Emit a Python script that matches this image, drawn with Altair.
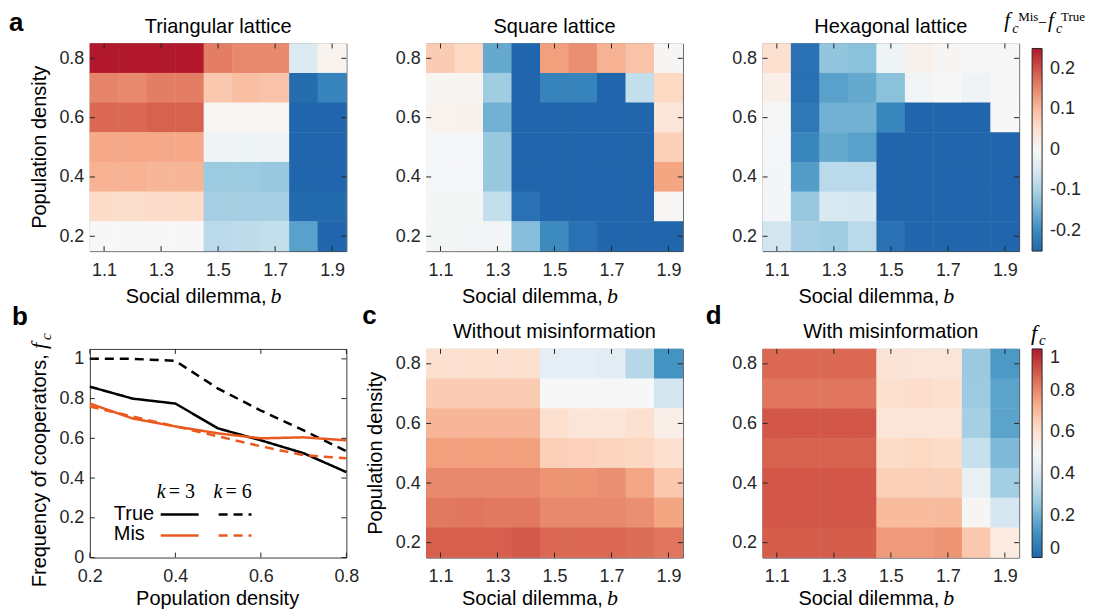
import altair as alt
import pandas as pd

FONT = "Liberation Sans"
SERIF = "Liberation Serif"
AX = "#262626"
FRAME = "#3a3a3a"
ORANGE = "#ea5a1f"
RDBU = ["#2166ac", "#4393c3", "#92c5de", "#d1e5f0", "#f7f7f7",
        "#fddbc7", "#f4a582", "#d6604d", "#b2182b"]

# ---------------- data ----------------
B_VALUES = [1.1, 1.2, 1.3, 1.4, 1.5, 1.6, 1.7, 1.8, 1.9]
DENSITY_ROWS = [0.8, 0.7, 0.6, 0.5, 0.4, 0.3, 0.2]
B_TICKS = [1.1, 1.3, 1.5, 1.7, 1.9]
D_TICKS = [0.2, 0.4, 0.6, 0.8]
DIFF_TICKS = [-0.2, -0.1, 0, 0.1, 0.2]
FC_TICKS = [0, 0.2, 0.4, 0.6, 0.8, 1]

TRIANGULAR = [
    [0.25, 0.25, 0.25, 0.25, 0.16, 0.15, 0.15, -0.045, 0.01],
    [0.155, 0.15, 0.16, 0.16, 0.085, 0.095, 0.09, -0.24, -0.21],
    [0.18, 0.18, 0.185, 0.185, 0.002, 0.002, 0.002, -0.25, -0.25],
    [0.12, 0.12, 0.12, 0.12, -0.01, -0.015, -0.012, -0.25, -0.25],
    [0.11, 0.11, 0.105, 0.105, -0.115, -0.115, -0.12, -0.25, -0.25],
    [0.06, 0.055, 0.06, 0.06, -0.105, -0.105, -0.105, -0.245, -0.245],
    [0.0, 0.0, 0.0, 0.0, -0.085, -0.08, -0.075, -0.17, -0.25],
]
SQUARE = [
    [0.08, 0.065, -0.16, -0.25, 0.13, 0.145, 0.11, 0.09, 0.005],
    [0.007, 0.007, -0.11, -0.25, -0.21, -0.21, -0.25, -0.075, 0.065],
    [0.01, 0.012, -0.15, -0.25, -0.25, -0.25, -0.25, -0.25, 0.04],
    [-0.003, -0.003, -0.12, -0.25, -0.25, -0.25, -0.25, -0.25, 0.075],
    [-0.003, -0.003, -0.12, -0.25, -0.25, -0.25, -0.25, -0.25, 0.125],
    [-0.005, -0.005, -0.075, -0.235, -0.25, -0.25, -0.25, -0.25, 0.003],
    [-0.005, -0.006, -0.008, -0.135, -0.2, -0.235, -0.25, -0.25, -0.25],
]
HEXAGONAL = [
    [0.05, -0.235, -0.125, -0.13, -0.015, 0.015, 0.005, -0.002, -0.002],
    [0.02, -0.235, -0.17, -0.16, -0.13, -0.008, 0.0, -0.015, -0.002],
    [-0.002, -0.225, -0.15, -0.15, -0.205, -0.25, -0.25, -0.25, 0.0],
    [-0.004, -0.205, -0.16, -0.17, -0.25, -0.25, -0.25, -0.25, -0.25],
    [-0.006, -0.175, -0.085, -0.085, -0.25, -0.25, -0.25, -0.25, -0.25],
    [-0.006, -0.12, -0.05, -0.055, -0.25, -0.25, -0.25, -0.25, -0.25],
    [-0.06, -0.105, -0.11, -0.085, -0.235, -0.25, -0.25, -0.25, -0.25],
]
WITHOUT_MIS = [
    [0.6, 0.6, 0.6, 0.6, 0.44, 0.44, 0.43, 0.32, 0.125],
    [0.66, 0.66, 0.66, 0.66, 0.5, 0.5, 0.5, 0.5, 0.38],
    [0.71, 0.71, 0.71, 0.71, 0.6, 0.58, 0.58, 0.6, 0.54],
    [0.76, 0.76, 0.76, 0.76, 0.65, 0.645, 0.64, 0.635, 0.6],
    [0.8, 0.8, 0.8, 0.8, 0.78, 0.78, 0.79, 0.745, 0.67],
    [0.83, 0.835, 0.83, 0.83, 0.8, 0.8, 0.8, 0.79, 0.75],
    [0.875, 0.875, 0.875, 0.885, 0.86, 0.86, 0.86, 0.85, 0.835],
]
WITH_MIS = [
    [0.86, 0.86, 0.86, 0.86, 0.585, 0.58, 0.58, 0.265, 0.14],
    [0.835, 0.835, 0.835, 0.835, 0.6, 0.615, 0.6, 0.27, 0.165],
    [0.89, 0.89, 0.89, 0.89, 0.58, 0.58, 0.58, 0.29, 0.165],
    [0.87, 0.87, 0.87, 0.87, 0.62, 0.63, 0.62, 0.355, 0.22],
    [0.89, 0.89, 0.89, 0.89, 0.65, 0.65, 0.65, 0.45, 0.285],
    [0.89, 0.89, 0.89, 0.89, 0.7, 0.7, 0.7, 0.51, 0.39],
    [0.88, 0.88, 0.88, 0.88, 0.77, 0.77, 0.78, 0.67, 0.56],
]

DENSITY = [0.2, 0.3, 0.4, 0.5, 0.6, 0.7, 0.8]
TRUE_K3 = [0.86, 0.80, 0.775, 0.65, 0.59, 0.525, 0.43]
TRUE_K6 = [1.0, 1.0, 0.99, 0.85, 0.74, 0.64, 0.535]
MIS_K3 = [0.775, 0.70, 0.66, 0.625, 0.60, 0.605, 0.59]
MIS_K6 = [0.76, 0.71, 0.66, 0.61, 0.56, 0.515, 0.50]
LINE_TICKS_X = [0.2, 0.4, 0.6, 0.8]
LINE_TICKS_Y = [0, 0.2, 0.4, 0.6, 0.8, 1]

DIFF_STOPS = [-0.25 + 0.0625 * i for i in range(9)]
FC_STOPS = [0.125 * i for i in range(9)]

W = 257
H_TOP = 208
H_BOT = 209


def grid_df(matrix):
    rows = []
    for d, row in zip(DENSITY_ROWS, matrix):
        for b, v in zip(B_VALUES, row):
            rows.append({"b": b, "d": d, "v": v})
    return pd.DataFrame(rows)


def txt(text, x, y, size=20, font=FONT, style="normal", weight="normal",
        align="left", angle=0, color="black"):
    return alt.Chart(alt.Data(values=[{}])).mark_text(
        text=text, fontSize=size, font=font, fontStyle=style, fontWeight=weight,
        align=align, baseline="alphabetic", angle=angle, color=color
    ).encode(x=alt.value(x), y=alt.value(y))


def axis_x(values, fmt):
    return alt.Axis(values=values, format=fmt, title=None, labelFlush=False,
                    labelOverlap=False, labelPadding=10, ticks=False, tickSize=0,
                    domain=False, grid=False, labelFontSize=18, labelFont=FONT,
                    labelColor=AX)


def axis_y(values, fmt):
    return alt.Axis(values=values, format=fmt, title=None, labelFlush=False,
                    labelOverlap=False, labelPadding=6, ticks=False, tickSize=0,
                    domain=False, grid=False, labelFontSize=18, labelFont=FONT,
                    labelColor=AX)


def inner_ticks(xticks, yticks, xscale, yscale, xaxis, yaxis, w, h, L=5):
    xt = alt.Chart(pd.DataFrame({"t": xticks}))
    yt = alt.Chart(pd.DataFrame({"t": yticks}))
    kw = dict(color=AX, strokeWidth=1)
    return [
        xt.mark_rule(**kw).encode(x=alt.X("t:Q", scale=xscale, axis=xaxis),
                                  y=alt.value(h), y2=alt.value(h - L)),
        xt.mark_rule(**kw).encode(x=alt.X("t:Q", scale=xscale, axis=xaxis),
                                  y=alt.value(0), y2=alt.value(L)),
        yt.mark_rule(**kw).encode(y=alt.Y("t:Q", scale=yscale, axis=yaxis),
                                  x=alt.value(0), x2=alt.value(L)),
        yt.mark_rule(**kw).encode(y=alt.Y("t:Q", scale=yscale, axis=yaxis),
                                  x=alt.value(w), x2=alt.value(w - L)),
    ]


def heatmap(matrix, stops, title, h, legend=None, letter=None, letter_xy=None,
            ytitle=False, extra=None, xtitle_dy=52):
    xs = alt.Scale(domain=[1.05, 1.95], nice=False, zero=False)
    ys = alt.Scale(domain=[0.15, 0.85], nice=False, zero=False)
    xa = axis_x(B_TICKS, ".1f")
    ya = axis_y(D_TICKS, ".1f")
    rect = alt.Chart(grid_df(matrix)).transform_calculate(
        b0="datum.b - 0.0508", b1="datum.b + 0.0508",
        d0="datum.d - 0.0508", d1="datum.d + 0.0508"
    ).mark_rect().encode(
        x=alt.X("b0:Q", scale=xs, axis=xa),
        x2="b1:Q",
        y=alt.Y("d0:Q", scale=ys, axis=ya),
        y2="d1:Q",
        color=alt.Color("v:Q", scale=alt.Scale(domain=stops, range=RDBU,
                                                clamp=True, interpolate="rgb"),
                        legend=legend),
    )
    layers = [rect] + inner_ticks(B_TICKS, D_TICKS, xs, ys, xa, ya, W, h)
    layers.append(txt(title, W / 2, -11, align="center"))
    layers.append(txt("Social dilemma,", 177, h + xtitle_dy, align="right"))
    layers.append(txt("b", 181, h + xtitle_dy, size=22, font=SERIF, style="italic"))
    if ytitle:
        layers.append(txt("Population density", -44, h / 2, align="center", angle=270))
    if letter:
        layers.append(txt(letter, letter_xy[0], letter_xy[1], size=26, weight="bold"))
    if extra:
        layers += extra
    return alt.layer(*layers).properties(width=W, height=h)


diff_legend = alt.Legend(
    orient="none", legendX=270, legendY=5, direction="vertical",
    gradientLength=203, gradientThickness=10, title=None, values=DIFF_TICKS,
    labelExpr="datum.value < 0 ? '-' + format(-datum.value, '.1~f') : format(datum.value, '.1~f')",
    labelFontSize=18, labelFont=FONT, labelColor=AX, labelOffset=8,
    gradientStrokeColor=AX, gradientStrokeWidth=1, padding=0)

fc_legend = alt.Legend(
    orient="none", legendX=270, legendY=0, direction="vertical",
    gradientLength=H_BOT, gradientThickness=10, title=None, values=FC_TICKS,
    format="~g", labelFontSize=18, labelFont=FONT, labelColor=AX, labelOffset=8,
    gradientStrokeColor=AX, gradientStrokeWidth=1, padding=0)

diff_title = [
    txt("f", 242, -17, size=21, font=SERIF, style="italic"),
    txt("c", 250, -11, size=14, font=SERIF, style="italic"),
    txt("Mis", 256, -23, size=13, font=SERIF),
    txt("\u2212", 276, -16, size=16, font=SERIF),
    txt("f", 286, -17, size=21, font=SERIF, style="italic"),
    txt("c", 294, -11, size=14, font=SERIF, style="italic"),
    txt("True", 299, -23, size=13, font=SERIF),
]
fc_title = [
    txt("f", 269, -9, size=22, font=SERIF, style="italic"),
    txt("c", 277, -4, size=15, font=SERIF, style="italic"),
]

panel_a = heatmap(TRIANGULAR, DIFF_STOPS, "Triangular lattice", H_TOP,
                  letter="a", letter_xy=(-81, -13), ytitle=True)
panel_sq = heatmap(SQUARE, DIFF_STOPS, "Square lattice", H_TOP)
panel_hex = heatmap(HEXAGONAL, DIFF_STOPS, "Hexagonal lattice", H_TOP,
                    legend=diff_legend, extra=diff_title)
panel_c = heatmap(WITHOUT_MIS, FC_STOPS, "Without misinformation", H_BOT,
                  letter="c", letter_xy=(-64, -25), ytitle=True, xtitle_dy=48)
panel_d = heatmap(WITH_MIS, FC_STOPS, "With misinformation", H_BOT,
                  legend=fc_legend, letter="d", letter_xy=(-57, -25), extra=fc_title,
                  xtitle_dy=48)

# ---------------- panel b ----------------
rows = []
for name, k, vals in [("True", "k=3", TRUE_K3), ("True", "k=6", TRUE_K6),
                      ("Mis", "k=3", MIS_K3), ("Mis", "k=6", MIS_K6)]:
    for x, v in zip(DENSITY, vals):
        rows.append({"density": x, "fc": v, "info": name, "k": k})
line_df = pd.DataFrame(rows)

lx = alt.Scale(domain=[0.2, 0.8], nice=False, zero=False)
ly = alt.Scale(domain=[0, 1.05], nice=False)
lxa = axis_x(LINE_TICKS_X, "~g")
lya = axis_y(LINE_TICKS_Y, "~g")
lines = alt.Chart(line_df).mark_line(strokeWidth=2.5).encode(
    x=alt.X("density:Q", scale=lx, axis=lxa),
    y=alt.Y("fc:Q", scale=ly, axis=lya),
    color=alt.Color("info:N", scale=alt.Scale(domain=["True", "Mis"],
                                              range=["black", ORANGE]), legend=None),
    strokeDash=alt.StrokeDash("k:N", scale=alt.Scale(domain=["k=3", "k=6"],
                                                     range=[[1, 0], [9, 6]]), legend=None),
    detail="k:N",
)


def seg(x1, x2, y, color, dash):
    return alt.Chart(alt.Data(values=[{}])).mark_rule(
        color=color, strokeWidth=2.5, strokeDash=dash
    ).encode(x=alt.value(x1), x2=alt.value(x2), y=alt.value(y))


Hb = H_BOT
b_layers = [lines] + inner_ticks(LINE_TICKS_X, LINE_TICKS_Y, lx, ly, lxa, lya, W, Hb) + [
    txt("k", 67, 149, size=20, font=SERIF, style="italic"),
    txt("= 3", 79, 149, size=20, font=SERIF),
    txt("k", 124, 149, size=20, font=SERIF, style="italic"),
    txt("= 6", 136, 149, size=20, font=SERIF),
    txt("True", 24, 171),
    txt("Mis", 24, 191),
    seg(71, 109, 166, "black", [1, 0]),
    seg(129, 162, 166, "black", [9, 6]),
    seg(71, 109, 187, ORANGE, [1, 0]),
    seg(129, 162, 187, ORANGE, [9, 6]),
    txt("Population density", 128, Hb + 48, align="center"),
    txt("Frequency of cooperators,", -44, 122, align="center", angle=270),
    txt("f", -44, 0, size=22, font=SERIF, style="italic", angle=270),
    txt("c", -39, -9, size=15, font=SERIF, style="italic", angle=270),
    txt("b", -78, -24, size=26, weight="bold"),
]
panel_b = alt.layer(*b_layers).properties(width=W, height=Hb)

chart = alt.concat(
    panel_a, panel_sq, panel_hex, panel_b, panel_c, panel_d,
    columns=3, spacing={"row": 98, "column": 80}, bounds="flush"
).resolve_scale(
    color="independent", strokeDash="independent", x="independent", y="independent"
).properties(
    padding={"left": 0, "top": 0, "right": 0, "bottom": 0}
).configure_view(stroke=FRAME, strokeWidth=1)

chart.save("out.html", embed_options={"renderer": "svg", "actions": False})
